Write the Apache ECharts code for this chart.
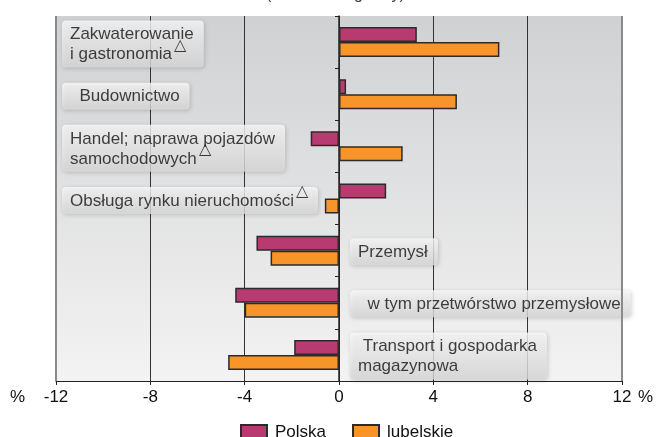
<!DOCTYPE html>
<html>
<head>
<meta charset="utf-8">
<script src="https://cdn.jsdelivr.net/npm/echarts@6/dist/echarts.min.js"></script>
<style>
  html, body { margin: 0; padding: 0; background: #fff; }
  #chart { width: 656px; height: 437px; }
</style>
</head>
<body>
<div id="chart"></div>
<script>
  // kategorie (od góry)
  const categories = [
    'Zakwaterowanie\ni gastronomia{t|△}',
    '  Budownictwo',
    'Handel; naprawa pojazdów\nsamochodowych{t|△}',
    'Obsługa rynku nieruchomości{t|△}',
    'Przemysł',
    '  w tym przetwórstwo przemysłowe',
    ' Transport i gospodarka\nmagazynowa'
  ]
  const polska = [3.3, 0.3, -1.2, 2.0, -3.5, -4.4, -1.9]
  const lubelskie = [6.8, 5.0, 2.7, -0.6, -2.9, -4.0, -4.7]
  const xTicks = [-12, -8, -4, 0, 4, 8, 12]

  const chart = echarts.init(document.getElementById('chart'))

  const xMin = xTicks[0]
  const xMax = xTicks[xTicks.length - 1]

  // etykiety: po lewej gdy któryś słupek jest dodatni, inaczej przy zerze
  const labelData = categories.map((name, i) => {
    const left = Math.max(polska[i], lubelskie[i]) > 0
    return {
      value: [left ? xMin : 0, i],
      name: name,
      label: { offset: left ? [6, 2] : [11, 1] }
    }
  })

  const option = {
    animation: false,
    textStyle: { fontFamily: 'Liberation Sans, Arial, sans-serif' },
    grid: {
      left: 56,
      right: 34,
      top: 16,
      bottom: 56,
      show: true,
      borderWidth: 0,
      backgroundColor: new echarts.graphic.LinearGradient(0, 0, 0, 1, [
        { offset: 0, color: '#d0d1d3' },
        { offset: 1, color: '#f3f3f3' }
      ])
    },
    legend: {
      data: ['Polska', 'lubelskie'],
      left: 235,
      top: 419,
      itemWidth: 26,
      itemHeight: 15,
      itemGap: 26,
      icon: 'rect',
      textStyle: { fontSize: 17, color: '#111', padding: [0, 0, 0, 3] }
    },
    xAxis: {
      type: 'value',
      min: xMin,
      max: xMax,
      interval: 4,
      axisLine: { show: true, onZero: false, lineStyle: { color: '#222', width: 1 } },
      axisTick: { show: true, length: 4, lineStyle: { color: '#222' } },
      axisLabel: { fontSize: 17, color: '#111', margin: 8 },
      splitLine: {
        show: true,
        lineStyle: { color: '#333', width: 1 }
      }
    },
    yAxis: {
      type: 'category',
      inverse: true,
      data: categories,
      axisLine: { show: true, onZero: true, lineStyle: { color: '#222', width: 1.5 } },
      axisTick: { show: true, length: 4, lineStyle: { color: '#222' } },
      axisLabel: { show: false },
      splitLine: { show: false }
    },
    graphic: [
      {
        type: 'text',
        left: 10,
        top: 389,
        style: { text: '%', fontSize: 17, fill: '#111', fontFamily: 'Liberation Sans, Arial' }
      },
      {
        type: 'text',
        left: 638,
        top: 389,
        style: { text: '%', fontSize: 17, fill: '#111', fontFamily: 'Liberation Sans, Arial' }
      },
      {
        type: 'text',
        left: 266,
        top: -13,
        style: { text: '(okres analogiczny)', fontSize: 16, fill: '#444', fontFamily: 'Liberation Sans, Arial' }
      }
    ],
    series: [
      {
        name: 'Polska',
        type: 'bar',
        data: polska,
        barWidth: 15,
        barGap: '0%',
        z: 3,
        itemStyle: { color: '#b73a71', borderColor: '#2b2b2b', borderWidth: 1.5 }
      },
      {
        name: 'lubelskie',
        type: 'bar',
        data: lubelskie,
        barWidth: 15,
        barGap: '0%',
        z: 3,
        itemStyle: { color: '#f7952b', borderColor: '#2b2b2b', borderWidth: 1.5 }
      },
      {
        name: 'etykiety',
        type: 'scatter',
        symbolSize: 0,
        silent: true,
        z: 4,
        data: labelData,
        label: {
          show: true,
          position: 'right',
          distance: 0,
          formatter: p => p.name,
          fontSize: 17,
          lineHeight: 20,
          color: '#111',
          align: 'left',
          padding: [4, 10, 3, 8],
          borderRadius: 4,
          backgroundColor: new echarts.graphic.LinearGradient(0, 0, 0, 1, [
            { offset: 0, color: '#fbfbfb' },
            { offset: 1, color: '#dadada' }
          ]),
          shadowBlur: 4,
          shadowColor: 'rgba(0,0,0,0.22)',
          shadowOffsetX: 1,
          shadowOffsetY: 1,
          rich: {
            t: { fontSize: 16, color: '#111', verticalAlign: 'top', padding: [-7, 0, 0, 2] }
          }
        },
        markLine: {
          silent: true,
          symbol: 'none',
          label: { show: false },
          lineStyle: { color: '#8a8a8a', width: 2, type: 'solid' },
          data: [{ xAxis: xMin }, { xAxis: xMax }]
        }
      }
    ]
  }

  chart.setOption(option)
</script>
</body>
</html>
